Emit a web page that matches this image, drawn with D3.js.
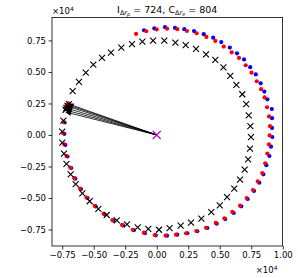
<!DOCTYPE html>
<html><head><meta charset="utf-8">
<script src="https://cdn.jsdelivr.net/npm/d3@7"></script>
<style>body{margin:0;background:#fff}svg{display:block}text{font-family:"DejaVu Sans",sans-serif}</style>
</head><body><svg id="c" width="298" height="278"></svg>
<script>
// values in units of 1e4
const xTicks = [-0.75,-0.5,-0.25,0,0.25,0.5,0.75,1.0];
const yTicks = [-0.75,-0.5,-0.25,0,0.25,0.5,0.75];
const crossX = [-0.696,-0.667,-0.617,-0.563,-0.503,-0.434,-0.363,-0.281,-0.196,-0.114,-0.029,0.060,0.148,0.230,0.312,0.391,0.465,0.529,0.584,0.632,0.679,0.710,0.730,0.743,0.748,0.740,0.725,0.698,0.661,0.615,0.558,0.500,0.433,0.354,0.272,0.190,0.102,0.018,-0.067,-0.151,-0.236,-0.317,-0.397,-0.463,-0.532,-0.590,-0.643,-0.683,-0.716,-0.736,-0.749,-0.750,-0.741,-0.723,-0.716,-0.708];
const crossY = [0.244,0.347,0.421,0.494,0.558,0.611,0.653,0.693,0.720,0.740,0.748,0.748,0.733,0.712,0.683,0.640,0.595,0.537,0.468,0.397,0.323,0.244,0.156,0.071,-0.018,-0.109,-0.193,-0.275,-0.354,-0.425,-0.494,-0.558,-0.613,-0.664,-0.696,-0.720,-0.740,-0.752,-0.746,-0.733,-0.709,-0.677,-0.635,-0.587,-0.526,-0.463,-0.390,-0.312,-0.230,-0.148,-0.060,0.026,0.113,0.200,0.215,0.230];
const redX = [-0.164,-0.083,0.000,0.082,0.163,0.240,0.317,0.394,0.465,0.532,0.595,0.653,0.706,0.752,0.794,0.828,0.856,0.875,0.891,0.899,0.896,0.890,0.878,0.861,0.837,0.802,0.764,0.714,0.661,0.600,0.537,0.468,0.391,0.314,0.233,0.153,0.070,-0.016,-0.102,-0.190,-0.275,-0.352,-0.422,-0.492,-0.557,-0.609,-0.654,-0.686,-0.716,-0.733,-0.741,-0.740,-0.725,-0.714,-0.700];
const redY = [0.802,0.823,0.837,0.843,0.839,0.825,0.807,0.778,0.746,0.701,0.656,0.611,0.553,0.494,0.426,0.363,0.298,0.220,0.147,0.070,-0.004,-0.075,-0.148,-0.225,-0.302,-0.369,-0.437,-0.500,-0.561,-0.611,-0.661,-0.698,-0.736,-0.762,-0.780,-0.791,-0.798,-0.794,-0.775,-0.752,-0.714,-0.675,-0.625,-0.563,-0.496,-0.425,-0.343,-0.258,-0.167,-0.075,0.013,0.103,0.212,0.238,0.250];
const blueX = [-0.101,-0.019,0.066,0.145,0.219,0.296,0.373,0.448,0.512,0.580,0.637,0.693,0.742,0.786,0.825,0.854,0.878,0.913,0.915,0.915,0.917,0.907,0.894,0.870,0.846,0.814,0.772,0.722,0.671,0.611,0.544,0.476,0.402,0.322,0.243,0.163,0.082,-0.008,-0.094,-0.182,-0.267,-0.344,-0.414,-0.484,-0.549,-0.601,-0.646,-0.678,-0.708,-0.725,-0.733,-0.732,-0.718,-0.707];
const blueY = [0.831,0.845,0.855,0.849,0.839,0.824,0.800,0.772,0.737,0.693,0.648,0.599,0.538,0.480,0.410,0.344,0.283,0.206,0.133,0.056,-0.016,-0.093,-0.167,-0.240,-0.312,-0.379,-0.444,-0.508,-0.566,-0.619,-0.667,-0.704,-0.738,-0.764,-0.780,-0.791,-0.799,-0.796,-0.779,-0.756,-0.718,-0.679,-0.629,-0.567,-0.500,-0.429,-0.347,-0.262,-0.171,-0.079,0.009,0.099,0.208,0.234];
const arrowTipX = [-0.727,-0.723,-0.719,-0.714,-0.710,-0.706];
const arrowTipY = [0.183,0.198,0.214,0.230,0.240,0.248];
const origin = [0,0];
const titleParts = {a:"I", asub:"Δr", asubsub:"p", b:" = 724, C", bsub:"Δr", bsubsub:"e", c:" = 804"};

const svg = d3.select("#c");
const L=52,R=282.5,T=17.5,B=246;
const x = d3.scaleLinear().domain([-0.831,0.998]).range([L,R]);
const y = d3.scaleLinear().domain([-0.881,0.932]).range([B,T]);
const fmt = d => (d<0?"\u2212":"")+Math.abs(d).toFixed(2);

const gx = svg.append("g").attr("transform",`translate(0,${B})`)
  .call(d3.axisBottom(x).tickValues(xTicks).tickSize(3.5).tickPadding(2.5).tickFormat(fmt));
const gy = svg.append("g").attr("transform",`translate(${L},0)`)
  .call(d3.axisLeft(y).tickValues(yTicks).tickSize(3.5).tickPadding(2.5).tickFormat(fmt));
[gx,gy].forEach(g=>{g.select(".domain").remove();
  g.selectAll("text").attr("font-size","8.5px").attr("fill","#000").attr("font-family","DejaVu Sans");
  g.selectAll("line").attr("stroke","#000").attr("stroke-width",0.8);});

const clip = svg.append("defs").append("clipPath").attr("id","cp").append("rect")
  .attr("x",L).attr("y",T).attr("width",R-L).attr("height",B-T);
const plot = svg.append("g").attr("clip-path","url(#cp)");

plot.selectAll(".b").data(d3.range(blueX.length)).join("circle")
  .attr("cx",i=>x(blueX[i])).attr("cy",i=>y(blueY[i])).attr("r",2.1).attr("fill","#0000ff");
plot.selectAll(".r").data(d3.range(redX.length)).join("circle")
  .attr("cx",i=>x(redX[i])).attr("cy",i=>y(redY[i])).attr("r",2.1).attr("fill","#ff0000");

const cross = (g,cx,cy,s,col,w)=>{
  g.append("path").attr("d",`M${cx-s},${cy-s}L${cx+s},${cy+s}M${cx-s},${cy+s}L${cx+s},${cy-s}`)
   .attr("stroke",col).attr("stroke-width",w).attr("fill","none");
};
crossX.forEach((v,i)=>cross(plot,x(v),y(crossY[i]),3,"#000",1.1));

// arrows
arrowTipX.forEach((v,i)=>{
  const x0=x(origin[0]),y0=y(origin[1]),x1=x(v),y1=y(arrowTipY[i]);
  const dx=x1-x0,dy=y1-y0,len=Math.hypot(dx,dy),ux=dx/len,uy=dy/len;
  const hl=6,hw=2.4;
  const bx=x1-ux*hl,by=y1-uy*hl;
  plot.append("line").attr("x1",x0).attr("y1",y0).attr("x2",bx).attr("y2",by)
    .attr("stroke","#000").attr("stroke-width",0.8);
  plot.append("path").attr("d",`M${x1},${y1}L${bx-uy*hw},${by+ux*hw}L${bx+uy*hw},${by-ux*hw}Z`).attr("fill","#000");
});
cross(plot,x(origin[0]),y(origin[1]),4,"#bf00bf",1.2);

svg.append("rect").attr("x",L).attr("y",T).attr("width",R-L).attr("height",B-T)
  .attr("fill","none").attr("stroke","#000").attr("stroke-width",0.8);

// offset labels
const off1 = svg.append("text").attr("x",L).attr("y",14).attr("font-size","8.5px");
off1.append("tspan").text("×10");
off1.append("tspan").attr("dy",-3.5).attr("font-size","6px").text("4");
const off2 = svg.append("text").attr("x",R-5).attr("y",273).attr("font-size","8.5px").attr("text-anchor","end");
off2.append("tspan").text("×10");
off2.append("tspan").attr("dy",-3.5).attr("font-size","6px").text("4");

// title
const t = svg.append("text").attr("x",(L+R)/2).attr("y",12.5).attr("text-anchor","middle").attr("font-size","9.5px");
t.append("tspan").text(titleParts.a);
t.append("tspan").attr("dy",2).attr("font-size","6.5px").text(titleParts.asub.slice(0,1));
t.append("tspan").attr("font-size","6.5px").attr("font-style","italic").text(titleParts.asub.slice(1));
t.append("tspan").attr("dy",1.5).attr("font-size","5px").attr("font-style","italic").text(titleParts.asubsub);
t.append("tspan").attr("dy",-3.5).text(titleParts.b);
t.append("tspan").attr("dy",2).attr("font-size","6.5px").text(titleParts.bsub.slice(0,1));
t.append("tspan").attr("font-size","6.5px").attr("font-style","italic").text(titleParts.bsub.slice(1));
t.append("tspan").attr("dy",1.5).attr("font-size","5px").attr("font-style","italic").text(titleParts.bsubsub);
t.append("tspan").attr("dy",-3.5).text(titleParts.c);
</script></body></html>
